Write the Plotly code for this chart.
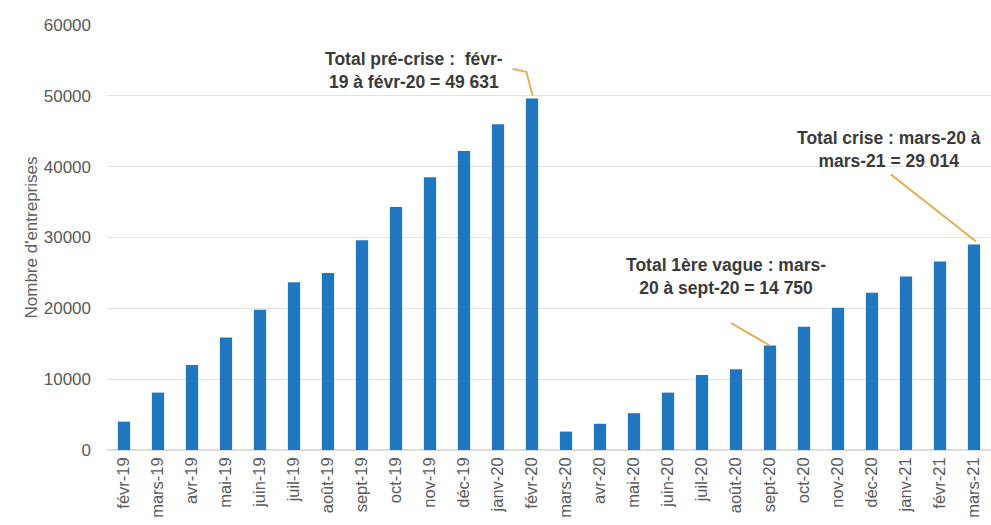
import plotly.graph_objects as go

months = ["févr-19", "mars-19", "avr-19", "mai-19", "juin-19", "juil-19", "août-19",
          "sept-19", "oct-19", "nov-19", "déc-19", "janv-20", "févr-20", "mars-20",
          "avr-20", "mai-20", "juin-20", "juil-20", "août-20", "sept-20", "oct-20",
          "nov-20", "déc-20", "janv-21", "févr-21", "mars-21"]
entreprises = [4000, 8100, 12000, 15900, 19800, 23700, 25000, 29600, 34300, 38500,
               42200, 46000, 49631, 2600, 3700, 5200, 8100, 10600, 11400, 14750,
               17400, 20100, 22200, 24500, 26600, 29014]
y_ticks = [0, 10000, 20000, 30000, 40000, 50000, 60000]

callouts = [
    ("Total pré-crise :  févr-<br>19 à févr-20 = 49 631", "févr-20", 0.347, 0.894),
    ("Total 1ère vague : mars-<br>20 à sept-20 = 14 750", "sept-20", 0.700, 0.409),
    ("Total crise : mars-20 à<br>mars-21 = 29 014", "mars-21", 0.885, 0.708),
]
leader_paths = {
    "févr-20": "M -19.5,29.5 L -5.5,26.5 L 0.5,3",
    "sept-20": "M -39,22.5 L -1,0.5",
    "mars-21": "M -83,70 L 2,3",
}

fig = go.Figure()
fig.add_trace(go.Bar(x=months, y=entreprises, marker_color="#1F77C0",
                     marker_line_width=0, width=0.36))

for text, month, xp, yp in callouts:
    fig.add_annotation(text="<b>" + text.replace("<br>", "</b><br><b>") + "</b>",
                       xref="paper", yref="paper", x=xp, y=yp,
                       showarrow=False, xanchor="center", yanchor="middle",
                       font=dict(family="Liberation Sans, Arial", size=17.5, color="#3a3a3a"),
                       align="center")
    fig.add_shape(type="path", xref="x", yref="y", xsizemode="pixel", ysizemode="pixel",
                  xanchor=month, yanchor=entreprises[months.index(month)],
                  path=leader_paths[month],
                  line=dict(color="#E9A94A", width=1.8))

fig.update_layout(
    width=991, height=525,
    margin=dict(l=107, r=0, t=25, b=75),
    plot_bgcolor="white", paper_bgcolor="white",
    showlegend=False,
    font=dict(family="Liberation Sans, Arial", color="#595959"),
)
fig.update_xaxes(type="category", tickangle=-90, tickfont=dict(size=16.5, color="#595959"),
                 showgrid=False, showline=False, ticks="", ticklabelstandoff=3)
fig.update_yaxes(range=[0, 60000], tickvals=y_ticks, ticktext=[str(v) for v in y_ticks],
                 tickfont=dict(size=17, color="#595959"), showgrid=True, gridcolor="#E3E3E3",
                 gridwidth=1, zeroline=True, zerolinecolor="#DDDDDD", ticks="",
                 ticklabelstandoff=15,
                 title=dict(text="Nombre d'entreprises", font=dict(size=17, color="#606060"),
                            standoff=1))

fig.write_html("out.html")
